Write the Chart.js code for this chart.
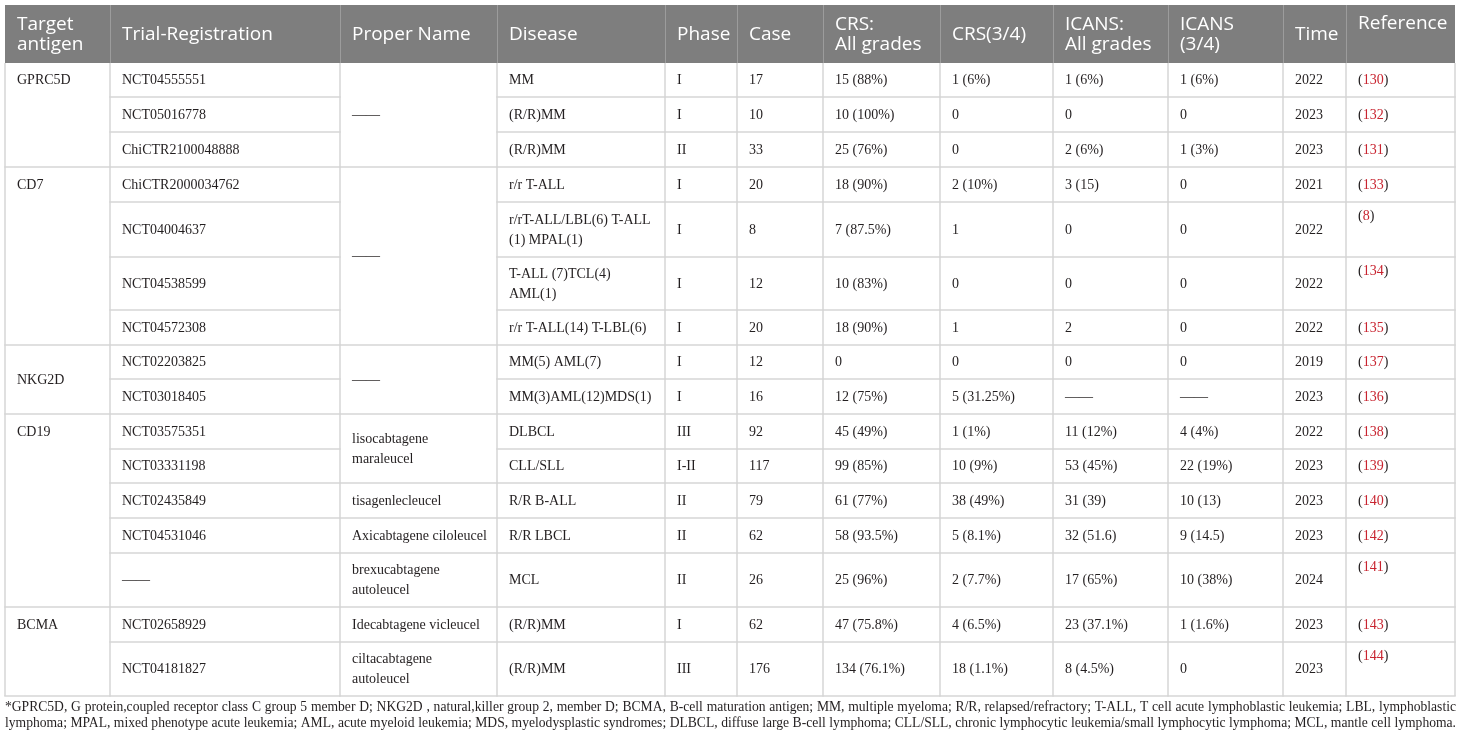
<!DOCTYPE html>
<html>
<head>
<meta charset="utf-8">
<script src="https://cdn.jsdelivr.net/npm/chart.js@4.4.1/dist/chart.umd.min.js"></script>
<style>
html,body{margin:0;padding:0;background:#fff;}
canvas{display:block;}
</style>
</head>
<body>
<canvas id="c" width="1460" height="741"></canvas>
<script>
// ---------------- DATA ----------------
const headers = ['Target\nantigen','Trial-Registration','Proper Name','Disease','Phase','Case','CRS:\nAll grades','CRS(3/4)','ICANS:\nAll grades','ICANS\n(3/4)','Time','Reference'];
const antigens = ['GPRC5D','CD7','NKG2D','CD19','BCMA'];
const antigenSpans = [3,4,2,5,2];
const trials = ['NCT04555551','NCT05016778','ChiCTR2100048888','ChiCTR2000034762','NCT04004637','NCT04538599','NCT04572308','NCT02203825','NCT03018405','NCT03575351','NCT03331198','NCT02435849','NCT04531046','——','NCT02658929','NCT04181827'];
const properNames = ['——','——','——','lisocabtagene\nmaraleucel','tisagenlecleucel','Axicabtagene ciloleucel','brexucabtagene\nautoleucel','Idecabtagene vicleucel','ciltacabtagene\nautoleucel'];
const properSpans = [3,4,2,2,1,1,1,1,1];
const diseases = ['MM','(R/R)MM','(R/R)MM','r/r T-ALL','r/rT-ALL/LBL(6) T-ALL\n(1) MPAL(1)','T-ALL (7)TCL(4)\nAML(1)','r/r T-ALL(14) T-LBL(6)','MM(5) AML(7)','MM(3)AML(12)MDS(1)','DLBCL','CLL/SLL','R/R B-ALL','R/R LBCL','MCL','(R/R)MM','(R/R)MM'];
const phases = ['I','I','II','I','I','I','I','I','I','III','I-II','II','II','II','I','III'];
const cases = [17,10,33,20,8,12,20,12,16,92,117,79,62,26,62,176];
const crsAll = ['15 (88%)','10 (100%)','25 (76%)','18 (90%)','7 (87.5%)','10 (83%)','18 (90%)','0','12 (75%)','45 (49%)','99 (85%)','61 (77%)','58 (93.5%)','25 (96%)','47 (75.8%)','134 (76.1%)'];
const crs34 = ['1 (6%)','0','0','2 (10%)','1','0','1','0','5 (31.25%)','1 (1%)','10 (9%)','38 (49%)','5 (8.1%)','2 (7.7%)','4 (6.5%)','18 (1.1%)'];
const icansAll = ['1 (6%)','0','2 (6%)','3 (15)','0','0','2','0','——','11 (12%)','53 (45%)','31 (39)','32 (51.6)','17 (65%)','23 (37.1%)','8 (4.5%)'];
const icans34 = ['1 (6%)','0','1 (3%)','0','0','0','0','0','——','4 (4%)','22 (19%)','10 (13)','9 (14.5)','10 (38%)','1 (1.6%)','0'];
const years = [2022,2023,2023,2021,2022,2022,2022,2019,2023,2022,2023,2023,2023,2024,2023,2023];
const refs = [130,132,131,133,8,134,135,137,136,138,139,140,142,141,143,144];
const footnoteLines = [
 '*GPRC5D, G protein,coupled receptor class C group 5 member D; NKG2D , natural,killer group 2, member D; BCMA, B-cell maturation antigen; MM, multiple myeloma; R/R, relapsed/refractory; T-ALL, T cell acute lymphoblastic leukemia; LBL, lymphoblastic',
 'lymphoma; MPAL, mixed phenotype acute leukemia; AML, acute myeloid leukemia; MDS, myelodysplastic syndromes; DLBCL, diffuse large B-cell lymphoma; CLL/SLL, chronic lymphocytic leukemia/small lymphocytic lymphoma; MCL, mantle cell lymphoma.'
];

// ---------------- LAYOUT / STYLE ----------------
const layout = {
  colEdges: [5,110,340,497,665,737,823,940,1053,1168,1283,1346,1455],
  headerTop: 5,
  headerBottom: 63,
  rowHeights: [34,35,35,35,55,53,35,34,35,35,34,35,35,54,35,54],
  antigenValign: ['top','top','middle','top','top'],
  padX: 12,
  bodyLine: 20,
  headLine: 20,
  footY: [707.5, 723.5],
  footLeft: 5,
  footRight: 1456
};
const style = {
  headerBg: '#7e7e7e',
  headerSep: '#9c9c9c',
  headerText: '#ffffff',
  grid: '#d6d6d6',
  text: '#231f20',
  ref: '#c8232f',
  headFont: '19px "Open Sans"',
  bodyFont: '14px "Liberation Serif"',
  footFont: '13.6px "Liberation Serif"'
};

const tablePlugin = {
  id: 'tablePlugin',
  afterDraw(chart) {
    const ctx = chart.ctx;
    const xs = chart.scales.x, ys = chart.scales.y;
    const X = v => xs.getPixelForValue(v);
    const Y = v => ys.getPixelForValue(v);
    const L = layout;
    const ce = L.colEdges;
    const re = [L.headerBottom];
    L.rowHeights.forEach(h => re.push(re[re.length-1] + h));
    const nRows = L.rowHeights.length;
    const tableBottom = re[nRows];

    ctx.save();
    // header background
    ctx.fillStyle = style.headerBg;
    ctx.fillRect(X(ce[0]), Y(L.headerTop), X(ce[ce.length-1]) - X(ce[0]), Y(L.headerBottom) - Y(L.headerTop));
    // header separators
    ctx.strokeStyle = style.headerSep;
    ctx.lineWidth = 1;
    for (let i = 1; i < ce.length-1; i++) {
      ctx.beginPath();
      ctx.moveTo(Math.round(X(ce[i])) + 0.5, Y(L.headerTop));
      ctx.lineTo(Math.round(X(ce[i])) + 0.5, Y(L.headerBottom));
      ctx.stroke();
    }
    // body grid
    ctx.strokeStyle = style.grid;
    ctx.lineWidth = 1.5;
    ce.forEach(c => {
      ctx.beginPath();
      ctx.moveTo(X(c), Y(L.headerBottom));
      ctx.lineTo(X(c), Y(tableBottom));
      ctx.stroke();
    });
    const hline = (c, yv) => {
      ctx.beginPath();
      ctx.moveTo(X(ce[c]) - 0.75, Y(yv));
      ctx.lineTo(X(ce[c+1]) + 0.75, Y(yv));
      ctx.stroke();
    };
    const spanEdges = spans => { const e=[0]; spans.forEach(s=>e.push(e[e.length-1]+s)); return e; };
    const aE = spanEdges(antigenSpans), pE = spanEdges(properSpans);
    for (let c = 0; c < ce.length-1; c++) {
      if (c === 0) aE.slice(1).forEach(r => hline(c, re[r]));
      else if (c === 2) pE.slice(1).forEach(r => hline(c, re[r]));
      else for (let r = 1; r <= nRows; r++) hline(c, re[r]);
    }

    // text helpers
    ctx.textBaseline = 'middle';
    ctx.textAlign = 'left';
    const drawText = (txt, x, yc, lh) => {
      const lines = String(txt).split('\n');
      const y0 = yc - (lines.length-1)*lh/2;
      lines.forEach((ln, i) => ctx.fillText(ln, X(x), Y(y0 + i*lh)));
    };

    // header text
    ctx.font = style.headFont;
    ctx.fillStyle = style.headerText;
    const hMid = (L.headerTop + L.headerBottom)/2;
    headers.forEach((h, i) => {
      const x = ce[i] + L.padX;
      if (i === headers.length-1) drawText(h, x, hMid - L.headLine/2, L.headLine);
      else drawText(h, x, hMid + 1, L.headLine);
    });

    // body text
    ctx.font = style.bodyFont;
    ctx.fillStyle = style.text;
    const rowMid = r => (re[r] + re[r+1]) / 2 + 0.5;
    // antigen (merged)
    antigens.forEach((a, g) => {
      const r0 = aE[g], r1 = aE[g+1];
      const y = layout.antigenValign[g] === 'middle' ? (re[r0] + re[r1]) / 2 + 0.5 : rowMid(r0);
      drawText(a, ce[0] + L.padX, y, L.bodyLine);
    });
    // proper names (merged)
    properNames.forEach((p, g) => {
      const r0 = pE[g], r1 = pE[g+1];
      drawText(p, ce[2] + L.padX, (re[r0] + re[r1]) / 2 + 0.5, L.bodyLine);
    });
    const simpleCols = [[1,trials],[3,diseases],[4,phases],[5,cases],[6,crsAll],[7,crs34],[8,icansAll],[9,icans34],[10,years]];
    simpleCols.forEach(([c, arr]) => {
      arr.forEach((v, r) => drawText(v, ce[c] + L.padX, rowMid(r), L.bodyLine));
    });
    // references: "(" black, number red, ")" black; top aligned
    refs.forEach((v, r) => {
      const h = re[r+1] - re[r];
      const y = h > 40 ? re[r] + 14 : rowMid(r);
      let x = X(ce[11] + L.padX);
      const yy = Y(y);
      ctx.fillStyle = style.text; ctx.fillText('(', x, yy); x += ctx.measureText('(').width;
      ctx.fillStyle = style.ref; ctx.fillText(String(v), x, yy); x += ctx.measureText(String(v)).width;
      ctx.fillStyle = style.text; ctx.fillText(')', x, yy);
    });

    // footnote (justified)
    ctx.font = style.footFont;
    ctx.fillStyle = style.text;
    const target = X(L.footRight) - X(L.footLeft);
    footnoteLines.forEach((line, i) => {
      const words = line.split(' ');
      const spaceW = ctx.measureText(' ').width;
      const wordsW = words.reduce((s, w) => s + ctx.measureText(w).width, 0);
      const natural = wordsW + spaceW * (words.length-1);
      const yy = Y(L.footY[i]);
      if (natural > target) {
        ctx.fillText(line, X(L.footLeft), yy, target);
        return;
      }
      if (natural < target * 0.97) {
        ctx.fillText(line, X(L.footLeft), yy);
        return;
      }
      const gap = (target - wordsW) / (words.length - 1);
      let x = X(L.footLeft);
      words.forEach(w => { ctx.fillText(w, x, yy); x += ctx.measureText(w).width + gap; });
    });
    ctx.restore();
  }
};

function build() {
  new Chart(document.getElementById('c'), {
    type: 'scatter',
    data: { datasets: [] },
    options: {
      responsive: false,
      animation: false,
      events: [],
      layout: { padding: 0 },
      plugins: { legend: { display: false }, tooltip: { enabled: false } },
      scales: {
        x: { type: 'linear', min: 0, max: 1460, display: false },
        y: { type: 'linear', min: 0, max: 741, reverse: true, display: false }
      }
    },
    plugins: [tablePlugin]
  });
}
Promise.all([style.headFont, style.bodyFont, style.footFont].map(f => document.fonts.load(f).catch(() => null)))
  .then(build, build);
</script>
</body>
</html>
